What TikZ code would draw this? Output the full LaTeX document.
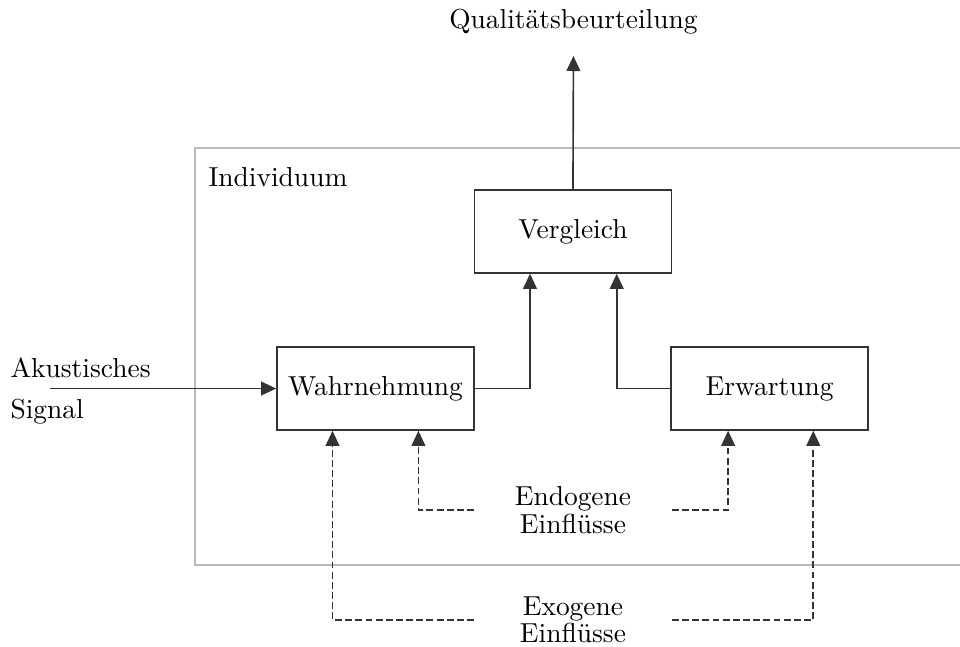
\documentclass[tikz,border=0pt]{standalone}
\usetikzlibrary{arrows.meta}
\begin{document}
\begin{tikzpicture}[
    block/.style={draw=black!80, line width=0.6pt, minimum width=2.52cm, minimum height=1.06cm, inner sep=0pt},
    flow/.style={draw=black!80, line width=0.6pt, -{Triangle[length=5.5pt,width=5pt]}},
    influence/.style={dash pattern=on 2.5pt off 1.2pt},
    factor/.style={minimum width=2.52cm, align=center, inner sep=0pt}
]
    \useasboundingbox (0,0) rectangle (12.288,8.269);
    % Individuum frame, open to the right
    \draw[gray!55, line width=0.5pt] (12.4,6.374) -- (2.496,6.374) -- (2.496,1.037) -- (12.4,1.037);
    \node[anchor=base west, inner sep=0pt] (indiv) at (2.662,5.888) {Individuum};
    \node[block] (vgl) at (7.334,5.306) {Vergleich};
    \node[block] (wahr) at (4.806,3.296) {Wahrnehmung};
    \node[block] (erw) at (9.850,3.296) {Erwartung};
    \node[anchor=base] (quali) at (7.34,7.91) {Qualitätsbeurteilung};
    \node[align=left, anchor=west, inner sep=0pt] (signal) at (0.128,3.268) {Akustisches\\[3pt]Signal};
    \node[factor] (endo) at (7.334,1.741) {Endogene\\[-2pt]Einflüsse};
    \node[factor] (exo) at (7.334,0.333) {Exogene\\[-2pt]Einflüsse};
    \coordinate (src) at (0.64,3.296);
    % solid connectors
    \draw[flow] (src) -- (wahr.west);
    \draw[flow] (wahr.east) -| ([xshift=-0.55cm]vgl.south);
    \draw[flow] (erw.west) -| ([xshift=0.56cm]vgl.south);
    \draw[flow] (vgl.north) -- ([yshift=-1.6mm]quali.south);
    % influences
    \draw[flow, influence] (endo.west) -| ([xshift=0.55cm]wahr.south);
    \draw[flow, influence] (endo.east) -| ([xshift=-0.53cm]erw.south);
    \draw[flow, influence] (exo.west) -| ([xshift=-0.55cm]wahr.south);
    \draw[flow, influence] (exo.east) -| ([xshift=0.56cm]erw.south);
\end{tikzpicture}
\end{document}
